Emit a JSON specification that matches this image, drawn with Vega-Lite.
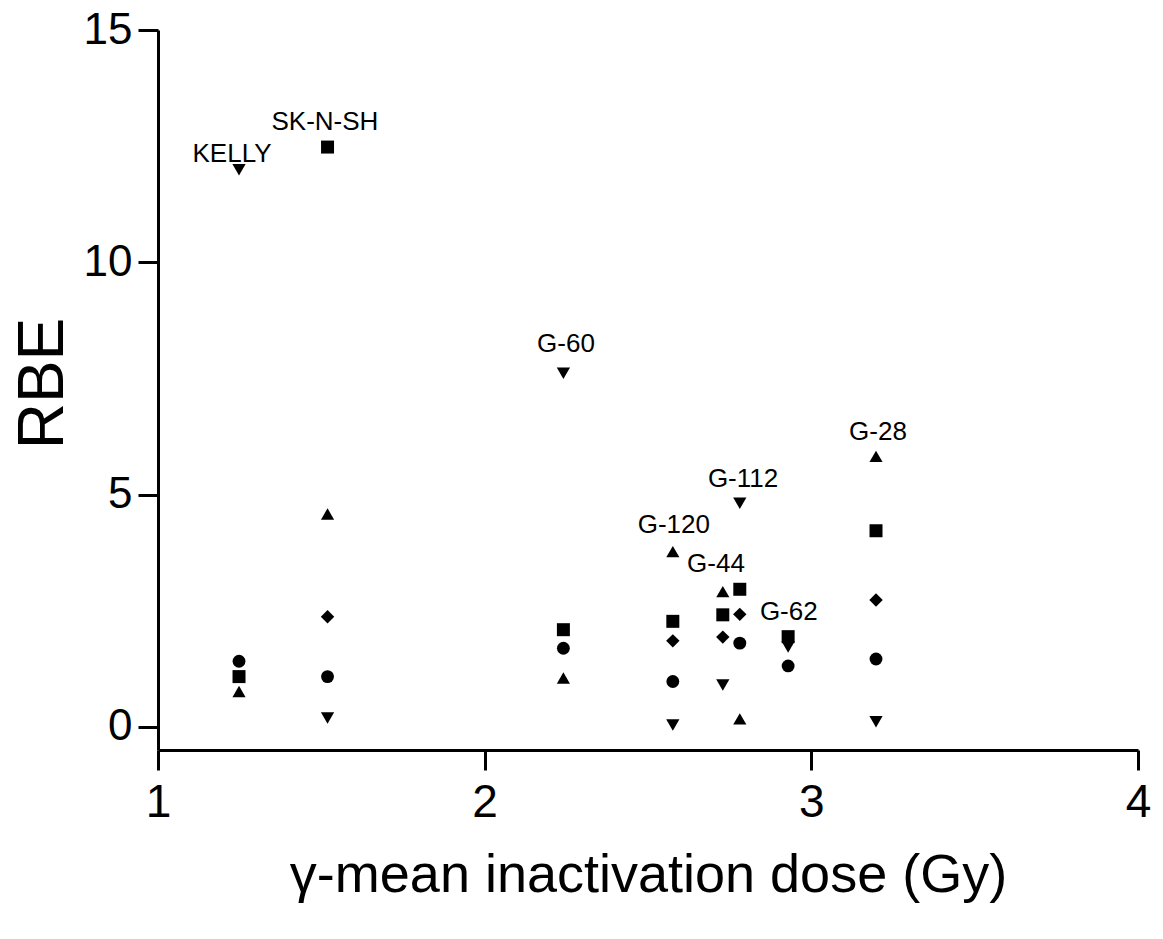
{
  "$schema": "https://vega.github.io/schema/vega-lite/v6.json",
  "autosize": {"type": "none"},
  "width": 980,
  "height": 720,
  "padding": {"left": 158, "top": 30, "right": 25, "bottom": 189},
  "background": "white",
  "config": {
    "view": {"stroke": null},
    "font": "Liberation Sans"
  },
  "datasets": {
    "points": [
      {"line": "KELLY", "dose": 1.248, "rbe": 11.99, "series": "triangle-down"},
      {"line": "KELLY", "dose": 1.248, "rbe": 1.41, "series": "circle"},
      {"line": "KELLY", "dose": 1.248, "rbe": 1.08, "series": "square"},
      {"line": "KELLY", "dose": 1.248, "rbe": 0.76, "series": "triangle-up"},
      {"line": "SK-N-SH", "dose": 1.519, "rbe": 12.48, "series": "square"},
      {"line": "SK-N-SH", "dose": 1.519, "rbe": 4.58, "series": "triangle-up"},
      {"line": "SK-N-SH", "dose": 1.519, "rbe": 2.37, "series": "diamond"},
      {"line": "SK-N-SH", "dose": 1.519, "rbe": 1.08, "series": "circle"},
      {"line": "SK-N-SH", "dose": 1.519, "rbe": 0.19, "series": "triangle-down"},
      {"line": "G-60", "dose": 2.241, "rbe": 7.61, "series": "triangle-down"},
      {"line": "G-60", "dose": 2.241, "rbe": 2.09, "series": "square"},
      {"line": "G-60", "dose": 2.241, "rbe": 1.69, "series": "circle"},
      {"line": "G-60", "dose": 2.241, "rbe": 1.05, "series": "triangle-up"},
      {"line": "G-120", "dose": 2.576, "rbe": 3.77, "series": "triangle-up"},
      {"line": "G-120", "dose": 2.576, "rbe": 2.27, "series": "square"},
      {"line": "G-120", "dose": 2.576, "rbe": 1.85, "series": "diamond"},
      {"line": "G-120", "dose": 2.576, "rbe": 0.975, "series": "circle"},
      {"line": "G-120", "dose": 2.576, "rbe": 0.04, "series": "triangle-down"},
      {"line": "G-44", "dose": 2.729, "rbe": 2.91, "series": "triangle-up"},
      {"line": "G-44", "dose": 2.729, "rbe": 2.41, "series": "square"},
      {"line": "G-44", "dose": 2.729, "rbe": 1.93, "series": "diamond"},
      {"line": "G-44", "dose": 2.729, "rbe": 0.9, "series": "triangle-down"},
      {"line": "G-112", "dose": 2.781, "rbe": 4.81, "series": "triangle-down"},
      {"line": "G-112", "dose": 2.781, "rbe": 2.96, "series": "square"},
      {"line": "G-112", "dose": 2.781, "rbe": 2.42, "series": "diamond"},
      {"line": "G-112", "dose": 2.781, "rbe": 1.8, "series": "circle"},
      {"line": "G-112", "dose": 2.781, "rbe": 0.17, "series": "triangle-up"},
      {"line": "G-62", "dose": 2.929, "rbe": 1.94, "series": "square"},
      {"line": "G-62", "dose": 2.929, "rbe": 1.72, "series": "triangle-down"},
      {"line": "G-62", "dose": 2.929, "rbe": 1.31, "series": "circle"},
      {"line": "G-28", "dose": 3.198, "rbe": 5.82, "series": "triangle-up"},
      {"line": "G-28", "dose": 3.198, "rbe": 4.22, "series": "square"},
      {"line": "G-28", "dose": 3.198, "rbe": 2.73, "series": "diamond"},
      {"line": "G-28", "dose": 3.198, "rbe": 1.46, "series": "circle"},
      {"line": "G-28", "dose": 3.198, "rbe": 0.11, "series": "triangle-down"}
    ],
    "labels": [
      {"label": "KELLY", "dose": 1.2265, "rbe": 12.16},
      {"label": "SK-N-SH", "dose": 1.511, "rbe": 12.85},
      {"label": "G-60", "dose": 2.249, "rbe": 8.07},
      {"label": "G-120", "dose": 2.579, "rbe": 4.17},
      {"label": "G-44", "dose": 2.708, "rbe": 3.34},
      {"label": "G-112", "dose": 2.791, "rbe": 5.16},
      {"label": "G-62", "dose": 2.931, "rbe": 2.3},
      {"label": "G-28", "dose": 3.204, "rbe": 6.18}
    ]
  },
  "layer": [
    {
      "data": {"name": "points"},
      "mark": {"type": "point", "filled": true, "color": "black", "opacity": 1},
      "encoding": {
        "x": {
          "field": "dose", "type": "quantitative",
          "scale": {"domain": [1, 4], "nice": false, "zero": false},
          "axis": {
            "values": [1, 2, 3, 4], "format": "d", "grid": false, "labelFlush": false,
            "domainColor": "black", "domainWidth": 3,
            "tickColor": "black", "tickWidth": 3, "tickSize": 20,
            "labelFontSize": 46, "labelColor": "black", "labelPadding": 10,
            "labelFont": "Liberation Sans",
            "title": "γ-mean inactivation dose (Gy)",
            "titleFontSize": 54, "titleFontWeight": "normal", "titleColor": "black",
            "titleFont": "Liberation Sans",
            "titleBaseline": "alphabetic", "titleY": 141
          }
        },
        "y": {
          "field": "rbe", "type": "quantitative",
          "scale": {"domain": [-0.5, 15], "nice": false, "zero": false},
          "axis": {
            "values": [0, 5, 10, 15], "grid": false, "labelFlush": false,
            "domainColor": "black", "domainWidth": 3,
            "tickColor": "black", "tickWidth": 3, "tickSize": 20,
            "labelFontSize": 44, "labelColor": "black", "labelPadding": 6,
            "labelFont": "Liberation Sans",
            "title": "RBE",
            "titleFontSize": 64, "titleFontWeight": "normal", "titleColor": "black",
            "titleFont": "Liberation Sans",
            "titleBaseline": "alphabetic", "titleAngle": -90,
            "titleX": -96, "titleY": 353, "titleAlign": "center"
          }
        },
        "shape": {
          "field": "series", "type": "nominal",
          "scale": {
            "domain": ["circle", "square", "triangle-up", "triangle-down", "diamond"],
            "range": ["circle", "square", "triangle-up", "triangle-down", "diamond"]
          },
          "legend": null
        },
        "size": {
          "field": "series", "type": "nominal",
          "scale": {
            "domain": ["circle", "square", "triangle-up", "triangle-down", "diamond"],
            "range": [165, 180, 225, 225, 210]
          },
          "legend": null
        }
      }
    },
    {
      "data": {"name": "labels"},
      "mark": {"type": "text", "font": "Liberation Sans", "fontSize": 26, "color": "black", "align": "center", "baseline": "alphabetic"},
      "encoding": {
        "x": {"field": "dose", "type": "quantitative"},
        "y": {"field": "rbe", "type": "quantitative"},
        "text": {"field": "label"}
      }
    }
  ]
}
